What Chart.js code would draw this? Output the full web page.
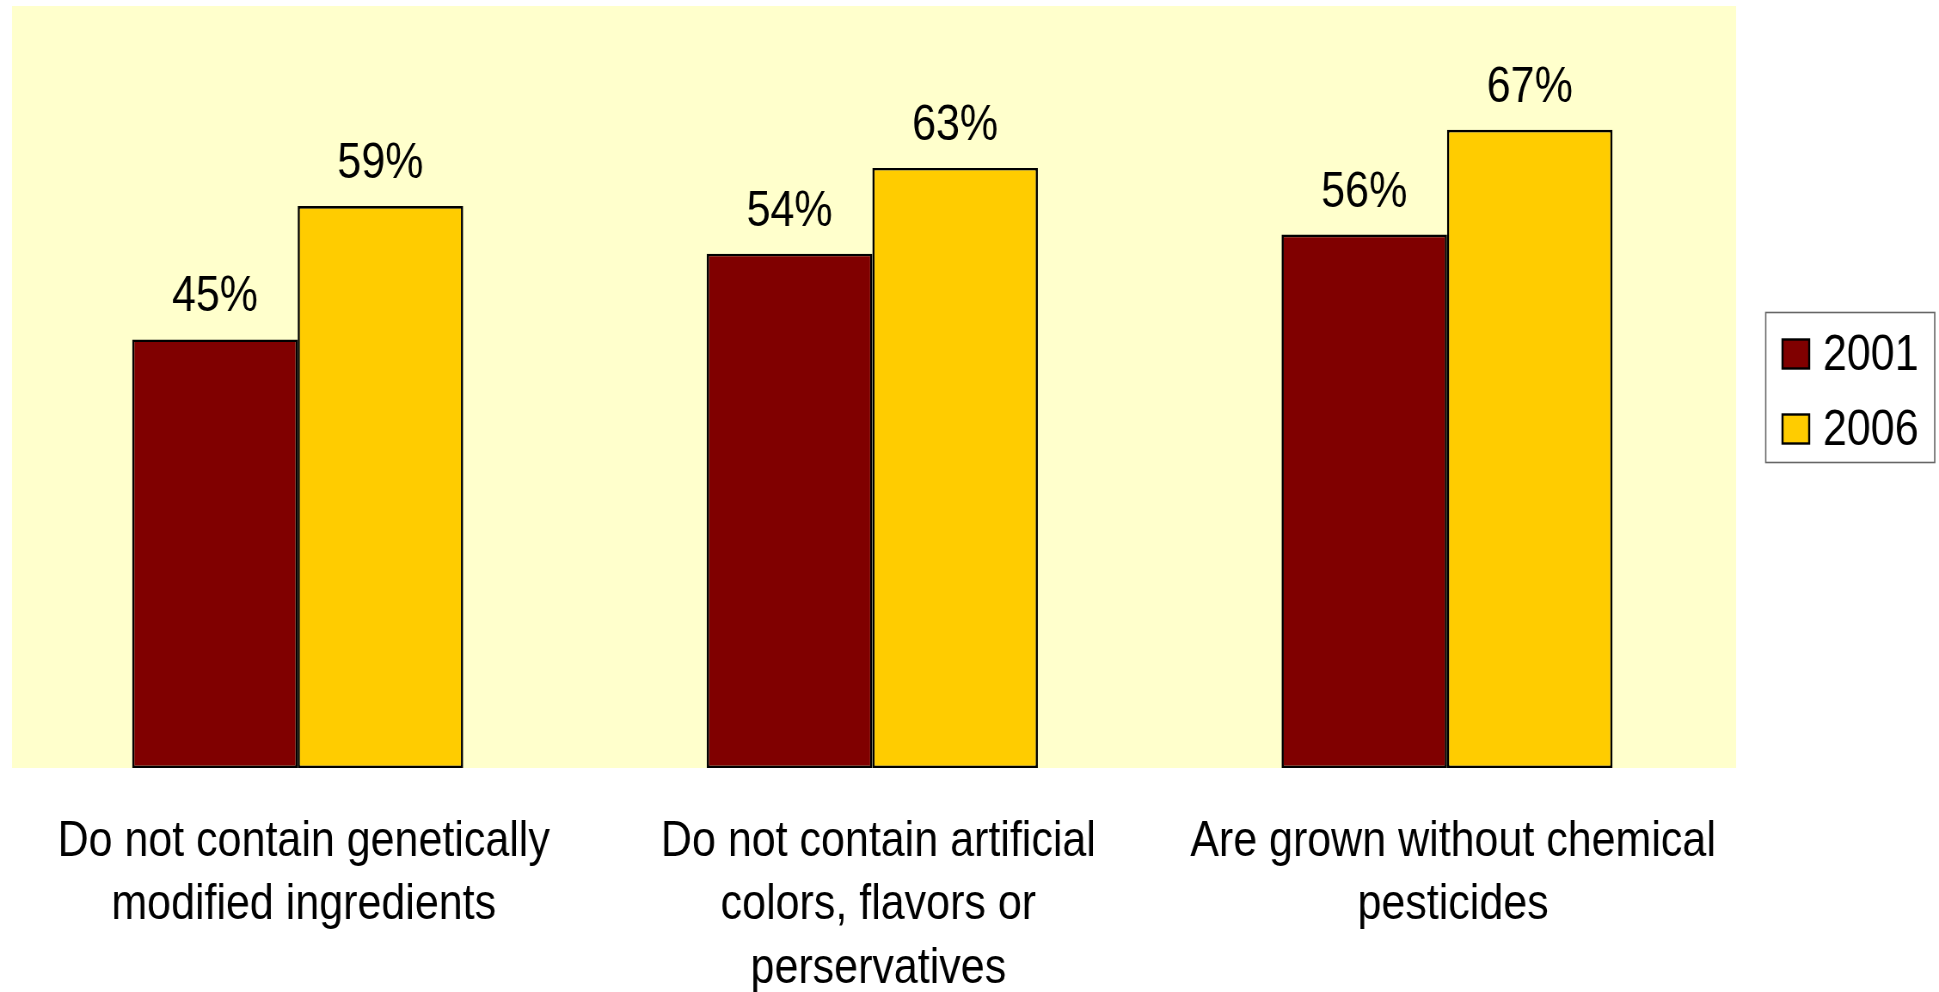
<!DOCTYPE html>
<html><head><meta charset="utf-8">
<script src="https://cdn.jsdelivr.net/npm/chart.js@4/dist/chart.umd.min.js"></script>
<style>
html,body{margin:0;padding:0;background:#fff;overflow:hidden;width:1939px;height:992px;}
#wrap{position:absolute;left:0;top:0;width:2255px;height:992px;transform:scaleX(0.85987);transform-origin:0 0;}
</style></head><body>
<div id="wrap"><canvas id="c"></canvas></div>
<script>
const categories = [
  ["Do not contain genetically", "modified ingredients"],
  ["Do not contain artificial", "colors, flavors or", "perservatives"],
  ["Are grown without chemical", "pesticides"]
];
const seriesNames = ["2001", "2006"];
const values2001 = [45, 54, 56];
const values2006 = [59, 63, 67];
const seriesColors = ["#800000", "#FFCC00"];
const yMin = 0;
const yMax = 80;

const FONT = "'Liberation Sans', Arial, Helvetica, sans-serif";

const plotBg = {
  id: 'plotBg',
  beforeDraw(chart) {
    const {ctx, chartArea: a} = chart;
    ctx.save();
    ctx.fillStyle = '#FFFFCC';
    ctx.fillRect(14, a.top, 2019 - 14, a.bottom - a.top);
    ctx.restore();
  }
};

const dataLabels = {
  id: 'dataLabels',
  afterDatasetsDraw(chart) {
    const ctx = chart.ctx;
    ctx.save();
    ctx.font = '50px ' + FONT;
    ctx.fillStyle = '#000';
    ctx.textAlign = 'center';
    ctx.textBaseline = 'alphabetic';
    chart.data.datasets.forEach((ds, i) => {
      chart.getDatasetMeta(i).data.forEach((bar, j) => {
        ctx.fillText(ds.data[j] + '%', bar.x, bar.y - 28);
      });
    });
    ctx.restore();
  }
};

const boxLegend = {
  id: 'boxLegend',
  afterDraw(chart) {
    const ctx = chart.ctx;
    ctx.save();
    ctx.strokeStyle = '#666';
    ctx.lineWidth = 1.6;
    ctx.strokeRect(2053.5, 312.5, 196.5, 150);
    const centers = [354, 429];
    chart.data.datasets.forEach((ds, i) => {
      const cy = centers[i];
      ctx.fillStyle = ds.backgroundColor;
      ctx.fillRect(2073, cy - 14.5, 31, 29);
      ctx.strokeStyle = '#000';
      ctx.lineWidth = 2.4;
      ctx.strokeRect(2073, cy - 14.5, 31, 29);
      ctx.fillStyle = '#000';
      ctx.font = '50px ' + FONT;
      ctx.textAlign = 'left';
      ctx.textBaseline = 'middle';
      ctx.fillText(ds.label, 2120, cy + 2);
    });
    ctx.restore();
  }
};

new Chart(document.getElementById('c'), {
  type: 'bar',
  data: {
    labels: categories,
    datasets: [
      {label: seriesNames[0], data: values2001, backgroundColor: seriesColors[0], borderColor: '#000', borderWidth: 2.6, borderSkipped: false},
      {label: seriesNames[1], data: values2006, backgroundColor: seriesColors[1], borderColor: '#000', borderWidth: 2.6, borderSkipped: false}
    ]
  },
  options: {
    responsive: true,
    maintainAspectRatio: false,
    animation: false,
    devicePixelRatio: 1,
    layout: {padding: {left: 12, top: 6, right: 238, bottom: 0}},
    plugins: {legend: {display: false}, tooltip: {enabled: false}},
    datasets: {bar: {categoryPercentage: 0.576, barPercentage: 1.0}},
    scales: {
      x: {
        grid: {display: false, drawTicks: false},
        border: {display: false},
        ticks: {
          font: {family: FONT, size: 50, lineHeight: 1.27},
          color: '#000', padding: 42, labelOffset: 7, maxRotation: 0, autoSkip: false
        },
        afterFit(scale) { scale.height = 224; }
      },
      y: {
        display: false, min: yMin, max: yMax
      }
    }
  },
  plugins: [plotBg, dataLabels, boxLegend]
});
</script>
</body></html>
